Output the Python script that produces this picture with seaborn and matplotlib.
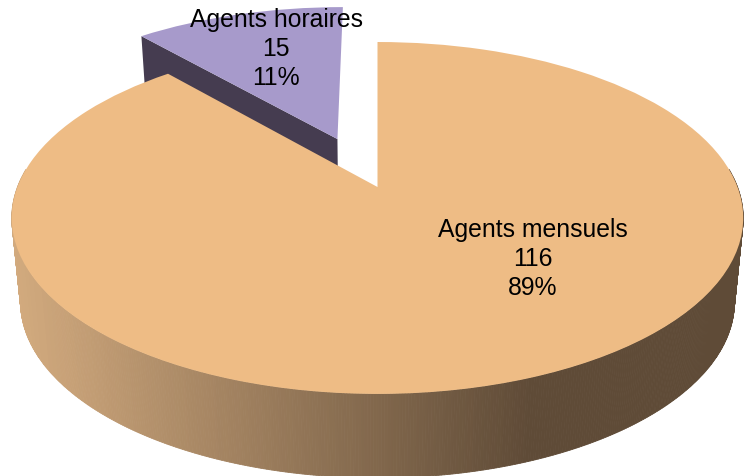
import numpy as np
import matplotlib
matplotlib.use("Agg")
import matplotlib.pyplot as plt
import seaborn as sns
from matplotlib.transforms import Affine2D, Transform

# data
labels = ["Agents mensuels", "Agents horaires"]
values = [116, 15]
percents = [89, 11]
explode = [0, 0.316]
colors = ["#EEBC85", "#A79ACB"]

sns.set_style("white")
plt.rcParams["font.family"] = ["Liberation Sans", "DejaVu Sans"]

# perspective of the pie top, in picture pixels
cx, cy = 377.5, 188
a, b, k = 360, 170.5, 0.176
depth = 84
shrink = 0.976
nudge = -2  # small slice sits a little further left


def project(x, y):
    w = 1 + k * y
    return cx + a * x / w, cy - b * y / w


def lower(px, py):
    # same point on the bottom face of the pie
    return cx + shrink * (px - cx), py + depth


class DiscTransform(Transform):
    input_dims = output_dims = 2

    def transform_non_affine(self, values):
        px, py = project(values[:, 0], values[:, 1])
        return np.column_stack([px, py])


fig, ax = plt.subplots(figsize=(7.44, 4.77), dpi=100)
fig.subplots_adjust(0, 0, 1, 1)

wedges, _ = ax.pie(values, startangle=90, counterclock=False, explode=explode,
                   colors=colors, radius=1, wedgeprops={"linewidth": 0, "edgecolor": "none"})
ax.set_aspect("auto")
ax.set_xlim(0, 744)
ax.set_ylim(477, 0)
ax.axis("off")

wedges[0].set_transform(DiscTransform() + ax.transData)
wedges[1].set_transform(DiscTransform() + Affine2D().translate(nudge, 0) + ax.transData)
for wedge, z in zip(wedges, [4, 3]):
    wedge.set_clip_on(False)
    wedge.set_zorder(z)

# outer wall of the big slice, shaded from left to right
wall_colors = sns.blend_palette(["#D2AA7E", "#5F4B37"], 120)
t = np.radians(np.linspace(-186, 6, 500))
top_x, top_y = project(np.cos(t), np.sin(t))
low_x, low_y = lower(top_x, top_y)
for i in range(len(t) - 1):
    mid = (top_x[i] + top_x[i + 1]) / 2
    shade = int(np.clip((mid - 12) / (530 - 12), 0, 1) * 119)
    ax.fill([top_x[i], top_x[i + 1], low_x[i + 1], low_x[i]],
            [top_y[i], top_y[i + 1], low_y[i + 1], low_y[i]],
            color=wall_colors[shade], lw=0.6, zorder=2)

# cut face of the small slice, mostly behind the big one
share = values[1] / sum(values) * 2 * np.pi
mid_angle = share / 2
off_x, off_y = -explode[1] * np.sin(mid_angle), explode[1] * np.cos(mid_angle)
p0 = project(off_x, off_y)
p1 = project(off_x - np.sin(share), off_y + np.cos(share))
q0, q1 = lower(*p0), lower(*p1)
ax.fill(np.array([p0[0], p1[0], q1[0], q0[0]]) + nudge, [p0[1], p1[1], q1[1], q0[1]],
        color="#453C50", lw=0, zorder=2.5)

# thin edge on the right side of the gap
ax.plot(*zip(project(0, 0), project(0, 1)), color="#6B5A45", lw=0.7, zorder=3.5)

# labels
positions = [(533, 259), (276, 49)]
for name, val, pct, (x, y) in zip(labels, values, percents, positions):
    ax.text(x, y, f"{name}\n{val}\n{pct}%", ha="center", va="center",
            fontsize=17.8, color="black", linespacing=1.26, zorder=6)

fig.savefig("out.png", dpi=100)
